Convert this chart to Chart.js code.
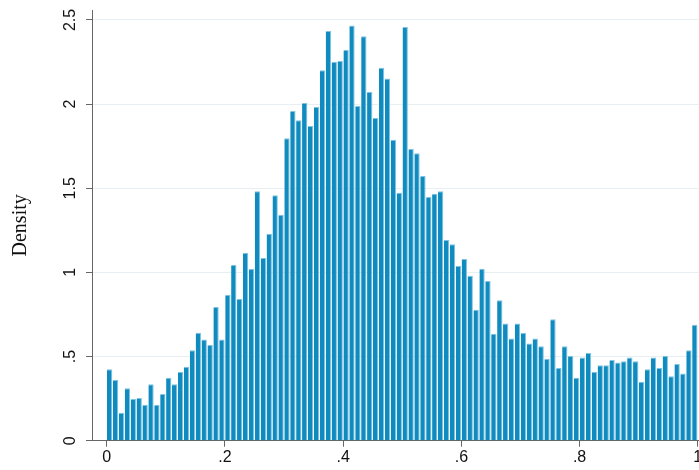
<!DOCTYPE html>
<html>
<head>
<meta charset="utf-8">
<script src="https://cdn.jsdelivr.net/npm/chart.js@4/dist/chart.umd.min.js"></script>
<style>
  html, body { margin: 0; padding: 0; background: #fff; }
  #chart { display: block; }
</style>
</head>
<body>
<canvas id="chart" width="699" height="470"></canvas>
<script>
// ── Data ─────────────────────────────────────────────────────────────────────

const binWidth = 0.01;

const density = [
  0.424, 0.361, 0.166, 0.311, 0.248, 0.254, 0.214, 0.335, 0.214, 0.277,
  0.374, 0.335, 0.408, 0.440, 0.537, 0.642, 0.602, 0.569, 0.794, 0.602,
  0.868, 1.044, 0.842, 1.117, 1.020, 1.482, 1.086, 1.230, 1.458, 1.343,
  1.797, 1.959, 1.904, 2.007, 1.870, 1.983, 2.201, 2.434, 2.250, 2.256,
  2.321, 2.468, 1.989, 2.403, 2.072, 1.917, 2.216, 2.153, 1.788, 1.474,
  2.458, 1.733, 1.708, 1.573, 1.448, 1.468, 1.482, 1.193, 1.167, 1.038,
  1.080, 0.980, 0.778, 1.022, 0.949, 0.636, 0.834, 0.697, 0.608, 0.697,
  0.640, 0.577, 0.608, 0.561, 0.487, 0.721, 0.432, 0.561, 0.503, 0.374,
  0.495, 0.521, 0.408, 0.448, 0.448, 0.480, 0.464, 0.472, 0.495, 0.472,
  0.351, 0.424, 0.495, 0.432, 0.503, 0.383, 0.456, 0.400, 0.537, 0.689,
];

const xTicks = [0, 0.2, 0.4, 0.6, 0.8, 1];
const xTickLabels = ['0', '.2', '.4', '.6', '.8', '1'];
const yTicks = [0, 0.5, 1, 1.5, 2, 2.5];
const yTickLabels = ['0', '.5', '1', '1.5', '2', '2.5'];

// bin centres
const points = density.map((v, i) => ({ x: (i + 0.5) * binWidth, y: v }));

// ── Chart ────────────────────────────────────────────────────────────────────

const AXIS = '#666666';
const GRID = '#e8eff2';
const tickFont = { family: '"Liberation Sans", Arial, sans-serif', size: 16 };

new Chart(document.getElementById('chart'), {
  type: 'bar',
  data: {
    datasets: [{
      data: points,
      backgroundColor: '#0f8bbf',
      borderColor: '#7fc3e2',
      borderWidth: { top: 1, left: 0, right: 1, bottom: 0 },
      borderSkipped: 'bottom',
      barPercentage: 0.9,
      categoryPercentage: 1,
    }],
  },
  options: {
    responsive: false,
    animation: false,
    layout: { padding: { top: 10, right: 0, left: 0, bottom: 0 } },
    plugins: {
      legend: { display: false },
      tooltip: { enabled: false },
    },
    scales: {
      x: {
        type: 'linear',
        offset: false,
        min: -0.02487,
        max: 1.00203,
        afterBuildTicks: s => { s.ticks = xTicks.map(v => ({ value: v })); },
        afterFit: s => { s.height = 29.3; s.paddingLeft = 0; s.paddingRight = 0; },
        ticks: {
          autoSkip: false,
          maxRotation: 0,
          padding: 1,
          color: '#111',
          font: tickFont,
          callback: (v, i) => xTickLabels[i],
        },
        grid: {
          offset: false,
          drawOnChartArea: false,
          drawTicks: true,
          tickLength: 6,
          tickColor: AXIS,
          tickWidth: 1,
        },
        border: { display: true, color: AXIS, width: 1 },
      },
      y: {
        type: 'linear',
        min: 0,
        max: 2.5594,
        afterBuildTicks: s => { s.ticks = yTicks.map(v => ({ value: v })); },
        afterFit: s => { s.width = 92; s.paddingTop = 0; s.paddingBottom = 0; },
        ticks: {
          autoSkip: false,
          minRotation: 90,
          maxRotation: 90,
          crossAlign: 'center',
          padding: 4,
          color: '#111',
          font: tickFont,
          callback: (v, i) => yTickLabels[i],
        },
        grid: {
          color: GRID,
          lineWidth: 1,
          drawTicks: true,
          tickLength: 6,
          tickColor: AXIS,
        },
        border: { display: true, color: AXIS, width: 1 },
        title: {
          display: true,
          text: 'Density',
          color: '#111',
          font: { family: '"Liberation Serif", "Times New Roman", serif', size: 20 },
          padding: { top: 8.5, bottom: 0 },
        },
      },
    },
  },
});
</script>
</body>
</html>
